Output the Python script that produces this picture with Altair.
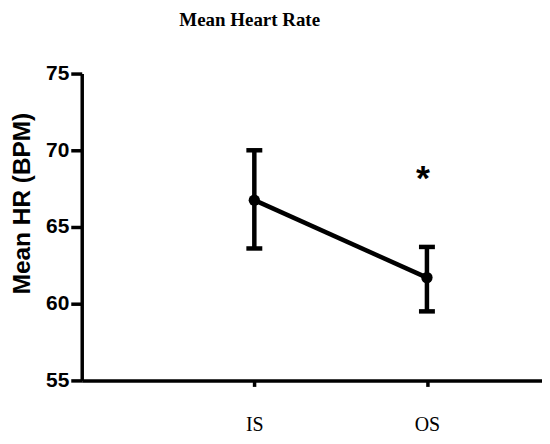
import altair as alt
import pandas as pd

# Data
categories = ["IS", "OS"]
mean_hr = [66.75, 61.7]
upper_hr = [70.0, 63.7]
lower_hr = [63.6, 59.5]
sig_marks = ["", "*"]
sig_y = [None, 68.5]

df = pd.DataFrame({
    "cat": categories,
    "pos": [i + 1 for i in range(len(categories))],
    "mean": mean_hr,
    "upper": upper_hr,
    "lower": lower_hr,
    "sig": sig_marks,
    "sig_y": sig_y,
})

label_expr = "[" + ",".join("'" + c + "'" for c in categories) + "][datum.value - 1]"

x_enc = alt.X(
    "pos:Q",
    scale=alt.Scale(domain=[0, 8 / 3], nice=False, zero=False),
    axis=alt.Axis(
        values=[1, 2],
        labelExpr=label_expr,
        title=None,
        grid=False,
        domainColor="black",
        domainWidth=3.5,
        tickColor="black",
        tickWidth=3.5,
        tickSize=6,
        labelFont="Liberation Serif",
        labelFontSize=20,
        labelColor="black",
        labelPadding=28,
    ),
)

y_scale = alt.Scale(domain=[55, 75], nice=False, zero=False)
y_axis = alt.Axis(
    values=[55, 60, 65, 70, 75],
    title="Mean HR (BPM)",
    grid=False,
    domainColor="black",
    domainWidth=3.5,
    tickColor="black",
    tickWidth=3.5,
    tickSize=11,
    labelFont="Liberation Sans",
    labelFontWeight="bold",
    labelFontSize=21,
    labelColor="black",
    labelPadding=2,
    titleFont="Liberation Sans",
    titleFontWeight="bold",
    titleFontSize=24.5,
    titleColor="black",
    titleAngle=-90,
    titleX=-59,
    titleY=130,
    titleAlign="center",
    titleBaseline="middle",
)

base = alt.Chart(df)

bars = base.mark_rule(color="black", strokeWidth=4.5).encode(
    x=x_enc,
    y=alt.Y("lower:Q", scale=y_scale, axis=y_axis),
    y2="upper:Q",
)
cap_hi = base.mark_tick(color="black", opacity=1, orient="horizontal", size=16, thickness=4.5).encode(
    x="pos:Q", y="upper:Q"
)
cap_lo = base.mark_tick(color="black", opacity=1, orient="horizontal", size=16, thickness=4.5).encode(
    x="pos:Q", y="lower:Q"
)
line = base.mark_line(color="black", strokeWidth=4.5).encode(
    x="pos:Q", y="mean:Q"
)
pts = base.mark_circle(color="black", opacity=1, size=130).encode(
    x="pos:Q", y="mean:Q"
)
star = base.transform_filter("datum.sig != ''").mark_text(
    font="Liberation Sans", fontWeight="bold", fontSize=36, color="black",
    baseline="middle", dx=-4, dy=6,
).encode(x="pos:Q", y="sig_y:Q", text="sig:N")

chart = alt.layer(bars, cap_hi, cap_lo, line, pts, star).properties(
    width=462,
    height=308,
    padding={"left": 74, "top": 65, "right": 0, "bottom": 60},
    autosize=alt.AutoSizeParams(type="none"),
    title=alt.TitleParams(
        "Mean Heart Rate",
        font="Liberation Serif",
        fontSize=19,
        fontWeight="bold",
        color="black",
        anchor="start",
        dx=170,
        offset=33,
    ),
).configure(background="white", view=alt.ViewConfig(stroke=None))

chart.save("out.html", embed_options={"renderer": "svg", "actions": False})
